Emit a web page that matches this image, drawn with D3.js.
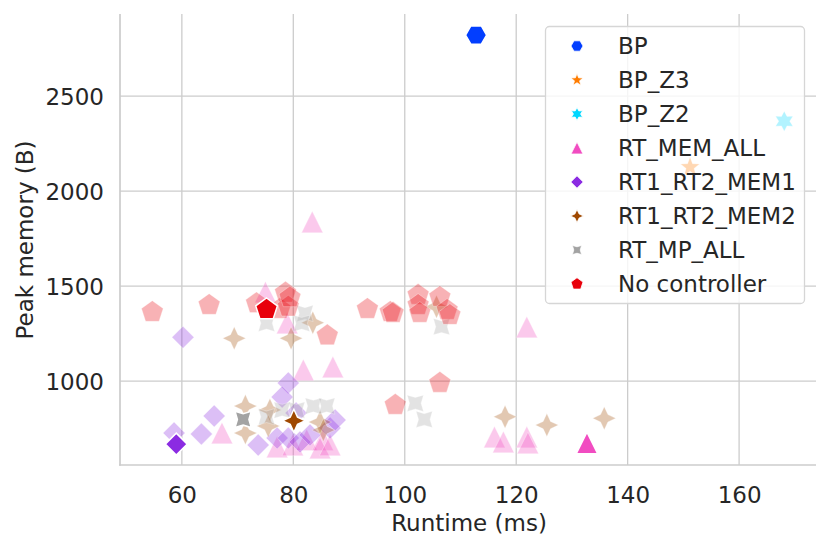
<!DOCTYPE html>
<html lang="en">
<head>
    <meta charset="UTF-8">
    <title>Runtime vs peak memory</title>
    <script src="https://cdnjs.cloudflare.com/ajax/libs/d3/7.8.5/d3.min.js"></script>
    <style>
        body {
            margin: 0;
            background: white;
            font-family: "DejaVu Sans", sans-serif;
        }
        .grid line {
            stroke: #cccccc;
            stroke-width: 1.3px;
        }
        .spine {
            stroke: #cccccc;
            stroke-width: 1.7px;
        }
        text {
            fill: #262626;
            font-size: 23px;
        }
    </style>
</head>
<body>
    <svg id="chart" width="831" height="551"></svg>

    <script>
        const seriesNames = ["BP", "BP_Z3", "BP_Z2", "RT_MEM_ALL", "RT1_RT2_MEM1", "RT1_RT2_MEM2", "RT_MP_ALL", "No controller"];
        const xTicks = [60, 80, 100, 120, 140, 160];
        const yTicks = [1000, 1500, 2000, 2500];

        // faint runs: [runtime (ms), peak memory (B)]
        const bpZ3Runs = [[151.2, 2126]];
        const bpZ2Runs = [[168.1, 2368]];
        const rtMemAllRuns = [
            [83.4, 1837], [75.0, 1468], [78.9, 1305], [81.8, 1058], [87.1, 1074],
            [121.9, 1284], [116.1, 705], [117.7, 679], [121.9, 705], [122.1, 674],
            [67.2, 726], [77.1, 653], [79.9, 663], [82.4, 690], [85.3, 690],
            [84.8, 647], [86.6, 663]
        ];
        const mem1Runs = [
            [60.2, 1230], [58.6, 726], [63.5, 721], [65.8, 816], [73.7, 663],
            [79.1, 990], [78.0, 916], [77.1, 700], [79.1, 700], [81.2, 679],
            [83.0, 716], [86.6, 753], [87.5, 795], [80.5, 832]
        ];
        const mem2Runs = [
            [69.4, 1225], [79.6, 1225], [83.5, 1307], [71.4, 868], [71.4, 726],
            [75.8, 848], [84.8, 784], [85.4, 742], [75.5, 763], [118.0, 812],
            [125.5, 768], [135.8, 804], [105.7, 1391]
        ];
        const mpAllRuns = [
            [75.2, 1304], [82.1, 1356], [81.5, 1304], [83.6, 868], [86.0, 868],
            [75.2, 812], [80.6, 847], [78.0, 847], [101.9, 883], [103.5, 798],
            [106.6, 1286]
        ];
        const noCtrlRuns = [
            [54.7, 1363], [64.9, 1400], [73.4, 1409], [77.6, 1379], [78.6, 1465],
            [79.1, 1391], [79.4, 1440], [86.1, 1240], [93.3, 1379], [97.4, 1363],
            [97.9, 1358], [102.4, 1453], [102.4, 1400], [102.7, 1358], [106.3, 1442],
            [107.6, 1374], [108.1, 1347], [106.3, 990], [98.3, 874]
        ];
        const fadedRuns = {
            "BP_Z3": bpZ3Runs, "BP_Z2": bpZ2Runs, "RT_MEM_ALL": rtMemAllRuns,
            "RT1_RT2_MEM1": mem1Runs, "RT1_RT2_MEM2": mem2Runs,
            "RT_MP_ALL": mpAllRuns, "No controller": noCtrlRuns
        };
        // best run of each controller
        const bestRuns = [
            ["BP", 112.8, 2821], ["RT_MEM_ALL", 132.7, 674], ["RT1_RT2_MEM1", 59.0, 668],
            ["RT1_RT2_MEM2", 80.1, 791], ["RT_MP_ALL", 71.0, 798], ["No controller", 75.2, 1377]
        ];

        const look = {
            "BP":            { color: "#023eff", shape: "hexagon", r: 10.5, lr: 6 },
            "BP_Z3":         { color: "#ff7c00", shape: "star5", r: 10, lr: 6.5 },
            "BP_Z2":         { color: "#00d7ff", shape: "star6", r: 10, lr: 6.5 },
            "RT_MEM_ALL":    { color: "#f14cc1", shape: "triangle", r: 10.7, lr: 6 },
            "RT1_RT2_MEM1":  { color: "#8b2be2", shape: "diamond", r: 11, lr: 6.2 },
            "RT1_RT2_MEM2":  { color: "#9f4800", shape: "sparkle", r: 11.5, lr: 6.5 },
            "RT_MP_ALL":     { color: "#a3a3a3", shape: "sparkleX", r: 11.5, lr: 6.5 },
            "No controller": { color: "#e8000b", shape: "pentagon", r: 11.4, lr: 6.3 }
        };

        function ring(n, r, inner, rot) {
            // regular polygon (inner == null) or star, angle measured from "up"
            const pts = [];
            const count = inner == null ? n : n * 2;
            for (let i = 0; i < count; i++) {
                const a = rot + i * 2 * Math.PI / count;
                const rad = (inner != null && i % 2 === 1) ? inner : r;
                pts.push([rad * Math.sin(a), -rad * Math.cos(a)]);
            }
            return "M" + pts.map(p => p[0].toFixed(2) + "," + p[1].toFixed(2)).join("L") + "Z";
        }

        function shapePath(shape, r) {
            switch (shape) {
                case "hexagon": return ring(6, r, null, Math.PI / 2);
                case "star5": return ring(5, r, r * 0.42, 0);
                case "star6": return ring(6, r, r * 0.55, 0);
                case "triangle": return `M0,${-r}L${r},${r}L${-r},${r}Z`;
                case "diamond": return ring(4, r, null, 0);
                case "sparkle": return ring(4, r, r * 0.45, 0);
                case "sparkleX": return ring(4, r, r * 0.5, Math.PI / 4);
                case "pentagon": return ring(5, r, null, 0);
            }
        }

        const margin = { left: 120, right: 816, top: 14, bottom: 465 };
        const x = d3.scaleLinear().domain([48.9, 173.8]).range([margin.left, margin.right]);
        const y = d3.scaleLinear().domain([558, 2932]).range([margin.bottom, margin.top]);

        const svg = d3.select("#chart");

        // grid
        const grid = svg.append("g").attr("class", "grid");
        grid.selectAll(".gx").data(xTicks).enter().append("line")
            .attr("x1", d => x(d)).attr("x2", d => x(d))
            .attr("y1", margin.top).attr("y2", margin.bottom);
        grid.selectAll(".gy").data(yTicks).enter().append("line")
            .attr("x1", margin.left).attr("x2", margin.right)
            .attr("y1", d => y(d)).attr("y2", d => y(d));

        // spines (left + bottom only)
        svg.append("line").attr("class", "spine")
            .attr("x1", margin.left).attr("x2", margin.left)
            .attr("y1", margin.top).attr("y2", margin.bottom + 0.8);
        svg.append("line").attr("class", "spine")
            .attr("x1", margin.left - 0.8).attr("x2", margin.right)
            .attr("y1", margin.bottom).attr("y2", margin.bottom);

        // axes built with d3, then stripped to labels only
        const xAxis = svg.append("g")
            .attr("transform", `translate(0,${margin.bottom})`)
            .call(d3.axisBottom(x).tickValues(xTicks).tickFormat(d3.format("d")).tickSize(0).tickPadding(0));
        xAxis.select(".domain").remove();
        xAxis.selectAll("text").attr("dy", null).attr("y", 37.5)
            .style("font-family", "DejaVu Sans").style("font-size", "23px").attr("fill", "#262626");

        const yAxis = svg.append("g")
            .attr("transform", `translate(${margin.left},0)`)
            .call(d3.axisLeft(y).tickValues(yTicks).tickFormat(d3.format("d")).tickSize(0).tickPadding(0));
        yAxis.select(".domain").remove();
        yAxis.selectAll("text").attr("x", -16).attr("dy", "0.36em")
            .style("font-family", "DejaVu Sans").style("font-size", "23px").attr("fill", "#262626");

        svg.append("text")
            .attr("x", 469).attr("y", 531)
            .attr("text-anchor", "middle")
            .text("Runtime (ms)");
        svg.append("text")
            .attr("transform", "translate(33,240) rotate(-90)")
            .attr("text-anchor", "middle")
            .text("Peak memory (B)");

        // legend frame sits under the marks, as in the reference
        const legend = svg.append("g");
        legend.append("rect")
            .attr("x", 545.5).attr("y", 26.5)
            .attr("width", 259).attr("height", 277)
            .attr("rx", 4)
            .attr("fill", "white").attr("fill-opacity", 0.8)
            .attr("stroke", "#d6d6d6").attr("stroke-width", 1.3);

        // faded runs first
        const faded = [];
        seriesNames.forEach(name => {
            (fadedRuns[name] || []).forEach(p => faded.push({ name, rt: p[0], mem: p[1] }));
        });
        svg.append("g").selectAll("path").data(faded).enter().append("path")
            .attr("d", d => shapePath(look[d.name].shape, look[d.name].r))
            .attr("transform", d => `translate(${x(d.rt)},${y(d.mem)})`)
            .attr("fill", d => look[d.name].color)
            .attr("fill-opacity", 0.3)
            .attr("stroke", "white")
            .attr("stroke-opacity", 0.3)
            .attr("stroke-width", 1);

        // best runs on top
        svg.append("g").selectAll("path").data(bestRuns).enter().append("path")
            .attr("d", d => shapePath(look[d[0]].shape, look[d[0]].r))
            .attr("transform", d => `translate(${x(d[1])},${y(d[2])})`)
            .attr("fill", d => look[d[0]].color)
            .attr("stroke", "white")
            .attr("stroke-width", 1.5);

        // legend entries
        const rows = svg.append("g").selectAll(".row").data(seriesNames).enter().append("g")
            .attr("transform", (d, i) => `translate(577,${46 + i * 34})`);
        rows.append("path")
            .attr("d", d => shapePath(look[d].shape, look[d].lr))
            .attr("fill", d => look[d].color)
            .attr("stroke", "white")
            .attr("stroke-width", 0.8);
        rows.append("text")
            .attr("x", 41).attr("dy", "0.36em")
            .text(d => d);
    </script>
</body>
</html>
